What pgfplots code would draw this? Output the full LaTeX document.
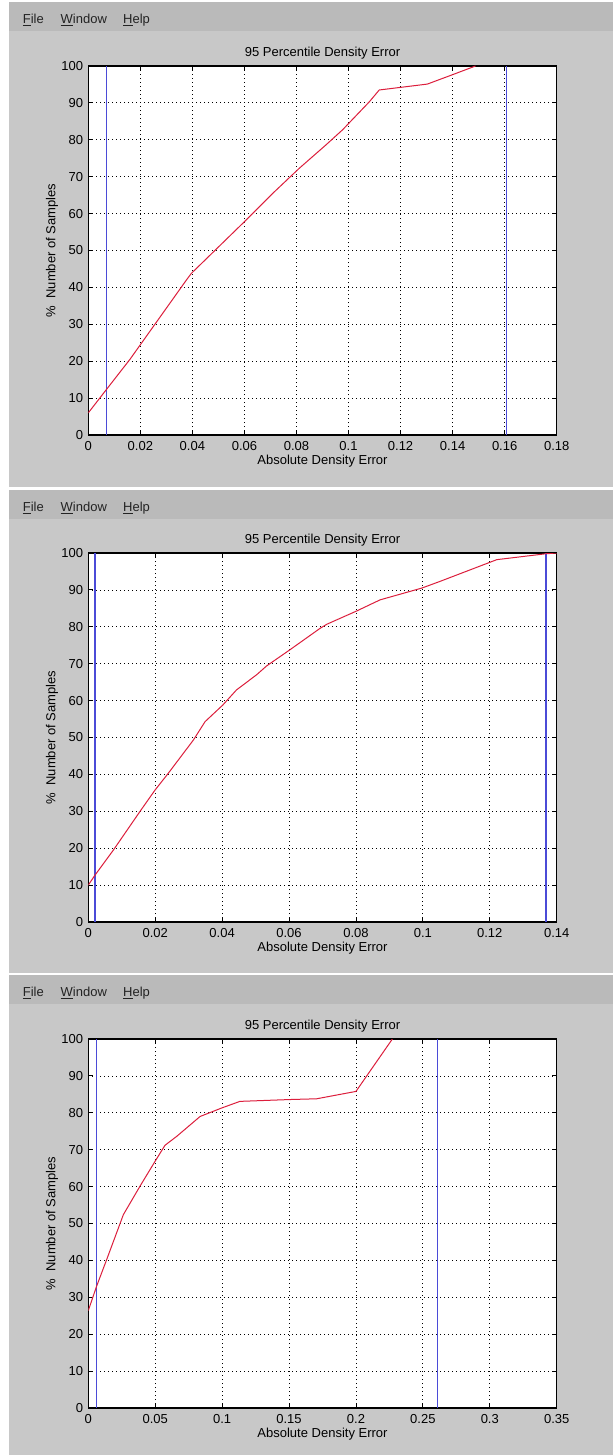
\documentclass[border=0pt]{standalone}
\usepackage{fontspec}
\setmainfont{Liberation Sans}
\usepackage{pgfplots}
\pgfplotsset{compat=1.18}
\definecolor{panelgray}{RGB}{200,200,200}
\definecolor{menugray}{RGB}{186,186,186}
\definecolor{menutext}{RGB}{35,35,35}
\definecolor{mred}{RGB}{220,30,60}
\definecolor{mblue}{RGB}{75,75,215}
\newcommand{\mfont}{\fontsize{13}{15}\selectfont}
\pgfplotsset{
  mlab/.style={
    scale only axis, width=468.4pt, height=369pt, anchor=south west,
    axis background/.style={fill=white},
    ymin=0, ymax=100, ytick={0,10,...,100},
    yticklabels={0,10,20,30,40,50,60,70,80,90,100},
    scaled x ticks=false,
    tick align=inside, major tick length=5pt,
    grid=major,
    major grid style={black, line width=0.8pt, dash pattern=on 1pt off 3pt},
    axis line style={black, line width=1.1pt},
    every tick/.style={black, line width=0.9pt},
    tick label style={font=\mfont, inner sep=0pt},
    xticklabel style={anchor=base, yshift=-15pt},
    yticklabel style={anchor=east, xshift=-5pt},
    every axis title/.style={at={(axis description cs:0.5,1)}, anchor=base, yshift=9.5pt, font=\mfont},
    every axis x label/.style={at={(axis description cs:0.5,0)}, anchor=base, yshift=-29pt, font=\mfont},
    every axis y label/.style={at={(axis description cs:-0.0705,0.5)}, rotate=90, anchor=base, font=\mfont},
    title={95 Percentile Density Error},
    xlabel={Absolute Density Error},
    ylabel={\%\ \ Number of Samples},
  },
  redline/.style={mred, line width=1pt},
  blueline/.style={mblue, line width=1.1pt},
}
\newcommand{\panel}[2]{%
  \fill[panelgray] (9.3pt,-#1pt) rectangle (613pt,-#2pt);
  \fill[menugray] (9.3pt,-#1pt) rectangle (613pt,-#1pt-29pt);
  \node[anchor=base west, inner sep=0pt, font=\mfont, text=menutext] at (22.7pt,-#1pt-21.5pt) {\underline{F}ile};
  \node[anchor=base west, inner sep=0pt, font=\mfont, text=menutext] at (60.5pt,-#1pt-21.5pt) {\underline{W}indow};
  \node[anchor=base west, inner sep=0pt, font=\mfont, text=menutext] at (123pt,-#1pt-21.5pt) {\underline{H}elp};
}
\begin{document}
\begin{tikzpicture}
\fill[white] (0pt,0pt) rectangle (613pt,-1455pt);
\panel{2.5}{486.7}
\panel{490}{972.7}
\panel{975}{1455}

% Panel 1
\begin{axis}[mlab, at={(88.3pt,-435pt)},
  xmin=0, xmax=0.18, xtick={0,0.02,0.04,0.06,0.08,0.1,0.12,0.14,0.16,0.18},
  xticklabels={0,0.02,0.04,0.06,0.08,0.1,0.12,0.14,0.16,0.18}]
\addplot[blueline] coordinates {(0.00705,0) (0.00705,100)};
\addplot[blueline] coordinates {(0.1607,0) (0.1607,100)};
\addplot[redline] coordinates {
(0,6) (0.0066,12) (0.016,20.5) (0.0377,42) (0.0396,43.8) (0.0594,57.4)
(0.0709,65.5) (0.0811,72.3) (0.0913,78.6) (0.0977,82.7) (0.108,90.3)
(0.1118,93.5) (0.1303,95.1) (0.1398,97.6) (0.1488,100)};
\end{axis}

% Panel 2
\begin{axis}[mlab, at={(88.3pt,-922pt)},
  xmin=0, xmax=0.14, xtick={0,0.02,0.04,0.06,0.08,0.1,0.12,0.14},
  xticklabels={0,0.02,0.04,0.06,0.08,0.1,0.12,0.14}]
\addplot[blueline] coordinates {(0.0020,0) (0.0020,100)};
\addplot[blueline] coordinates {(0.1368,0) (0.1368,100)};
\addplot[redline] coordinates {
(0,10) (0.002,12.7) (0.0075,19.5) (0.0154,29.9) (0.0199,35.7) (0.0239,40.3)
(0.0314,49.3) (0.0349,54.3) (0.0402,58.8) (0.0443,62.9) (0.0503,67.0)
(0.0533,69.4) (0.0603,73.8) (0.0693,79.6) (0.0713,80.7) (0.080,84.2)
(0.0872,87.3) (0.0997,90.5) (0.1051,92.3) (0.1221,98.2) (0.1368,99.8) (0.14,100)};
\end{axis}

% Panel 3
\begin{axis}[mlab, at={(88.3pt,-1408pt)},
  xmin=0, xmax=0.35, xtick={0,0.05,0.1,0.15,0.2,0.25,0.3,0.35},
  xticklabels={0,0.05,0.1,0.15,0.2,0.25,0.3,0.35}]
\addplot[blueline] coordinates {(0.00623,0) (0.00623,100)};
\addplot[blueline] coordinates {(0.2611,0) (0.2611,100)};
\addplot[redline] coordinates {
(0,26.4) (0.0062,33.0) (0.0137,40.2) (0.0262,52.4) (0.0386,60.1)
(0.0498,66.8) (0.0573,71.2) (0.066,73.6) (0.0835,79.0) (0.0996,81.3)
(0.1133,83.1) (0.1507,83.6) (0.1706,83.8) (0.2000,85.8) (0.2272,100)};
\end{axis}
\end{tikzpicture}
\end{document}
